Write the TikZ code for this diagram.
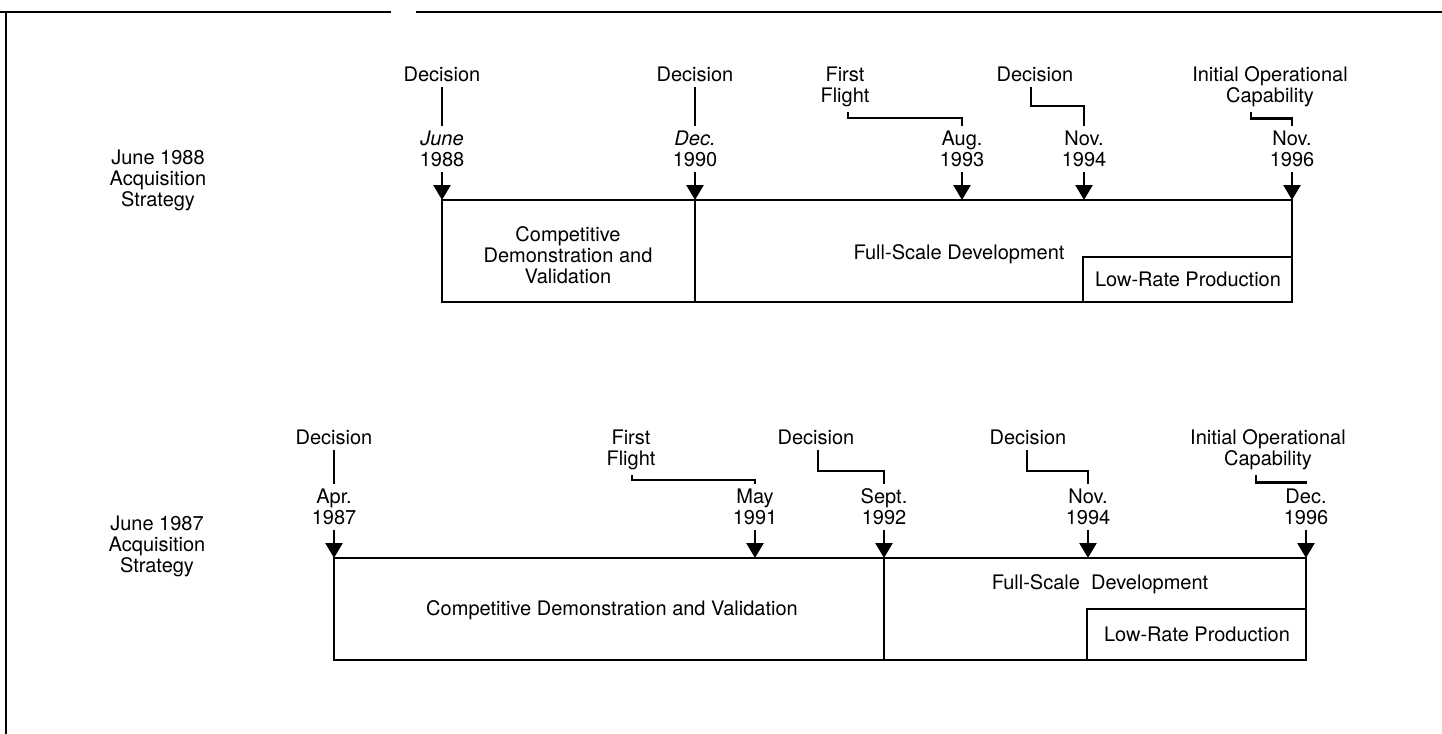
\documentclass[tikz,border=0pt]{standalone}
\usepackage{fontspec}
\setmainfont{TeX Gyre Heros}
\usetikzlibrary{arrows.meta}
\begin{document}
\begin{tikzpicture}[x=0.5pt, y=-0.5pt,
    line width=1pt,
    every node/.style={font=\fontsize{10}{10.5}\selectfont, align=center},
    datelabel/.style={anchor=south, inner sep=2pt},
    eventlabel/.style={anchor=north, inner sep=2pt},
    milestone/.style={line width=1.3pt, -{Triangle[width=8.5pt,length=7.5pt]}},
    leader/.style={line width=1.3pt}
]
\useasboundingbox (0,0) rectangle (1442,734);
% Rahmen
\draw[line width=0.8pt] (0,12) -- (391,12);
\draw[line width=0.8pt] (416,12) -- (1442,12);
\draw[line width=0.8pt] (6,12) -- (6,734);

% Strategie Juni 1988
\node (strat88) at (158,180) {June 1988\\Acquisition\\Strategy};
\foreach \x/\dt/\n in {442/{\textit{June}\\1988}/1, 695/{\textit{Dec.}\\1990}/2,
        962/{Aug.\\1993}/3, 1084/{Nov.\\1994}/4, 1292/{Nov.\\1996}/5} {
    \node[datelabel] (ta\n) at (\x,172) {\dt};
    \coordinate (pa\n) at (\x,200);
    \draw[milestone] (ta\n.south) -- (pa\n);
}
\draw (442,200) rectangle (1292,302);
\draw (695,200) -- (695,302);
\draw (1083,257) rectangle (1292,302);
\node (cdv88) at (568,255) {Competitive\\Demonstration and\\Validation};
\node (fsd88) at (959,254) {Full-Scale Development};
\node (lrp88) at (1188,279) {Low-Rate Production};

\node[eventlabel] (ea1) at (442,62) {Decision};
\node[eventlabel] (ea2) at (695,62) {Decision};
\node[eventlabel] (ea3) at (845,62) {First\\Flight};
\node[eventlabel] (ea4) at (1035,62) {Decision};
\node[eventlabel] (ea5) at (1270,62) {Initial Operational\\Capability};
\draw[leader] (ea1.south) -- (ta1.north);
\draw[leader] (ea2.south) -- (ta2.north);
\draw[leader] ([xshift=1.5pt]ea3.south) -- ++(0,6) -| (ta3.north);
\draw[leader] ([xshift=-2pt]ea4.south) -- ++(0,19) -| (ta4.north);
\draw[leader] ([xshift=-9.5pt]ea5.south) -- ++(0,6) -| (ta5.north);

% Strategie Juni 1987
\node (strat87) at (157,546) {June 1987\\Acquisition\\Strategy};
\foreach \x/\dt/\n in {334/{Apr.\\1987}/1, 755/{May\\1991}/2,
        884/{Sept.\\1992}/3, 1088/{Nov.\\1994}/4, 1306/{Dec.\\1996}/5} {
    \node[datelabel] (tb\n) at (\x,530) {\dt};
    \coordinate (pb\n) at (\x,558);
    \draw[milestone] (tb\n.south) -- (pb\n);
}
\draw (334,558) rectangle (1306,660);
\draw (884,558) -- (884,660);
\draw (1087,609) rectangle (1306,660);
\node (cdv87) at (612,610) {Competitive Demonstration and Validation};
\node (fsd87) at (1100,584) {Full-Scale~ Development};
\node (lrp87) at (1197,634) {Low-Rate Production};

\node[eventlabel] (eb1) at (334,425) {Decision};
\node[eventlabel] (eb2) at (631,425) {First\\Flight};
\node[eventlabel] (eb3) at (816,425) {Decision};
\node[eventlabel] (eb4) at (1028,425) {Decision};
\node[eventlabel] (eb5) at (1268,425) {Initial Operational\\Capability};
\draw[leader] (eb1.south) -- (tb1.north);
\draw[leader] ([xshift=0.5pt]eb2.south) -- ++(0,5) -| (tb2.north);
\draw[leader] ([xshift=1pt]eb3.south) -- ++(0,21) -| (tb3.north);
\draw[leader] ([xshift=-0.5pt]eb4.south) -- ++(0,21) -| (tb4.north);
\draw[leader] ([xshift=-6pt]eb5.south) -- ++(0,7) -| (tb5.north);
\end{tikzpicture}
\end{document}
